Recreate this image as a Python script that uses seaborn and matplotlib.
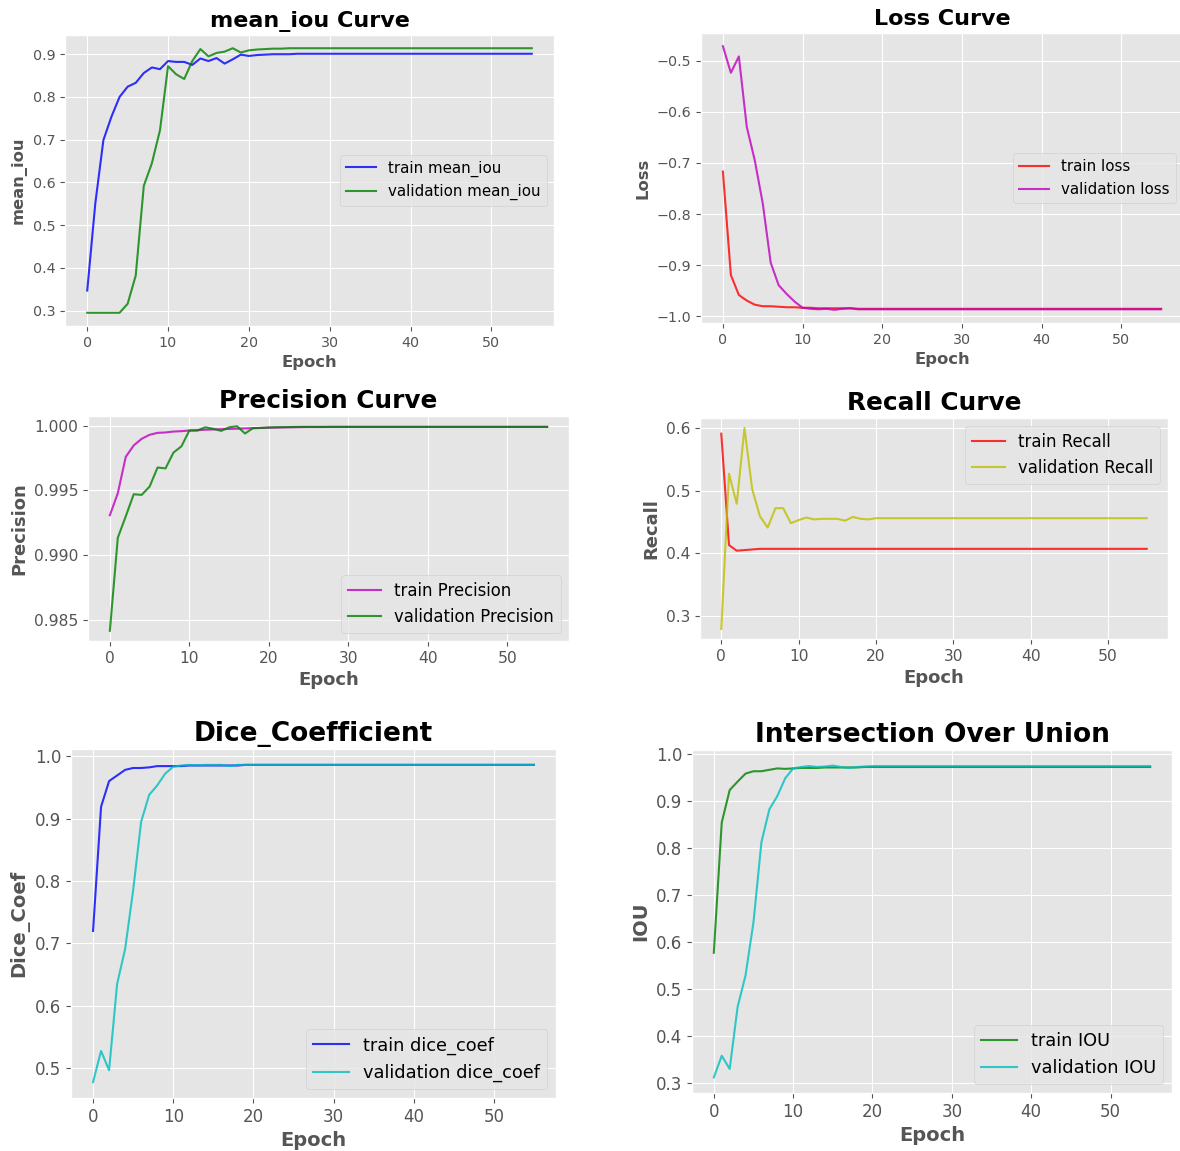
import numpy as np
import pandas as pd
import matplotlib
matplotlib.use("Agg")
import matplotlib.pyplot as plt
from matplotlib.ticker import MultipleLocator, FormatStrFormatter
import seaborn as sns

# epoch index (0..55)
epochs = list(range(56))

train_miou = [0.347, 0.551, 0.699, 0.754, 0.800, 0.824, 0.833, 0.856, 0.869, 0.865,
              0.884, 0.882, 0.882, 0.875, 0.890, 0.884, 0.891, 0.878, 0.888, 0.899,
              0.896, 0.898, 0.899, 0.900, 0.900, 0.900, 0.901, 0.901, 0.901, 0.901,
              0.901, 0.901, 0.901, 0.901, 0.901, 0.901, 0.901, 0.901, 0.901, 0.901,
              0.901, 0.901, 0.901, 0.901, 0.901, 0.901, 0.901, 0.901, 0.901, 0.901,
              0.901, 0.901, 0.901, 0.901, 0.901, 0.901]
val_miou = [0.295, 0.295, 0.295, 0.295, 0.295, 0.316, 0.382, 0.592, 0.645, 0.722,
            0.872, 0.853, 0.842, 0.884, 0.912, 0.895, 0.903, 0.906, 0.914, 0.904,
            0.909, 0.911, 0.912, 0.913, 0.913, 0.914, 0.914, 0.914, 0.914, 0.914,
            0.914, 0.914, 0.914, 0.914, 0.914, 0.914, 0.914, 0.914, 0.914, 0.914,
            0.914, 0.914, 0.914, 0.914, 0.914, 0.914, 0.914, 0.914, 0.914, 0.914,
            0.914, 0.914, 0.914, 0.914, 0.914, 0.914]

train_loss = [-0.717, -0.919, -0.958, -0.969, -0.977, -0.980, -0.980, -0.981, -0.982, -0.982,
              -0.983, -0.983, -0.984, -0.984, -0.984, -0.984, -0.984, -0.985, -0.985, -0.985,
              -0.985, -0.985, -0.985, -0.985, -0.985, -0.985, -0.985, -0.985, -0.985, -0.985,
              -0.985, -0.985, -0.985, -0.985, -0.985, -0.985, -0.985, -0.985, -0.985, -0.985,
              -0.985, -0.985, -0.985, -0.985, -0.985, -0.985, -0.985, -0.985, -0.985, -0.985,
              -0.985, -0.985, -0.985, -0.985, -0.985, -0.985]
val_loss = [-0.472, -0.524, -0.492, -0.630, -0.695, -0.779, -0.895, -0.939, -0.956, -0.971,
            -0.983, -0.985, -0.986, -0.985, -0.987, -0.985, -0.984, -0.986, -0.986, -0.986,
            -0.986, -0.986, -0.986, -0.986, -0.986, -0.986, -0.986, -0.986, -0.986, -0.986,
            -0.986, -0.986, -0.986, -0.986, -0.986, -0.986, -0.986, -0.986, -0.986, -0.986,
            -0.986, -0.986, -0.986, -0.986, -0.986, -0.986, -0.986, -0.986, -0.986, -0.986,
            -0.986, -0.986, -0.986, -0.986, -0.986, -0.986]

train_prec = [0.99309, 0.99479, 0.99759, 0.99847, 0.99898, 0.99929, 0.99944, 0.99947, 0.99954, 0.99957,
              0.99962, 0.99964, 0.99968, 0.99970, 0.99972, 0.99974, 0.99976, 0.99978, 0.99980, 0.99982,
              0.99984, 0.99985, 0.99986, 0.99987, 0.99988, 0.99989, 0.99989, 0.99989, 0.99990, 0.99990,
              0.99990, 0.99990, 0.99990, 0.99990, 0.99990, 0.99990, 0.99990, 0.99990, 0.99990, 0.99990,
              0.99990, 0.99990, 0.99990, 0.99990, 0.99990, 0.99990, 0.99990, 0.99990, 0.99990, 0.99990,
              0.99990, 0.99990, 0.99990, 0.99990, 0.99990, 0.99990]
val_prec = [0.98419, 0.99136, 0.99301, 0.99471, 0.99466, 0.99530, 0.99677, 0.99670, 0.99792, 0.99840,
            0.99962, 0.99962, 0.99987, 0.99975, 0.99959, 0.99987, 0.99995, 0.99939, 0.99980, 0.99982,
            0.99985, 0.99987, 0.99988, 0.99989, 0.99990, 0.99990, 0.99990, 0.99990, 0.99990, 0.99990,
            0.99990, 0.99990, 0.99990, 0.99990, 0.99990, 0.99990, 0.99990, 0.99990, 0.99990, 0.99990,
            0.99990, 0.99990, 0.99990, 0.99990, 0.99990, 0.99990, 0.99990, 0.99990, 0.99990, 0.99990,
            0.99990, 0.99990, 0.99990, 0.99990, 0.99990, 0.99990]

train_recall = [0.591, 0.413, 0.404, 0.405, 0.406, 0.407, 0.407, 0.407, 0.407, 0.407,
                0.407, 0.407, 0.407, 0.407, 0.407, 0.407, 0.407, 0.407, 0.407, 0.407,
                0.407, 0.407, 0.407, 0.407, 0.407, 0.407, 0.407, 0.407, 0.407, 0.407,
                0.407, 0.407, 0.407, 0.407, 0.407, 0.407, 0.407, 0.407, 0.407, 0.407,
                0.407, 0.407, 0.407, 0.407, 0.407, 0.407, 0.407, 0.407, 0.407, 0.407,
                0.407, 0.407, 0.407, 0.407, 0.407, 0.407]
val_recall = [0.279, 0.527, 0.479, 0.600, 0.502, 0.459, 0.441, 0.472, 0.472, 0.448,
              0.453, 0.457, 0.454, 0.455, 0.455, 0.455, 0.452, 0.458, 0.455, 0.454,
              0.456, 0.456, 0.456, 0.456, 0.456, 0.456, 0.456, 0.456, 0.456, 0.456,
              0.456, 0.456, 0.456, 0.456, 0.456, 0.456, 0.456, 0.456, 0.456, 0.456,
              0.456, 0.456, 0.456, 0.456, 0.456, 0.456, 0.456, 0.456, 0.456, 0.456,
              0.456, 0.456, 0.456, 0.456, 0.456, 0.456]

train_dice = [0.720, 0.919, 0.960, 0.969, 0.978, 0.981, 0.981, 0.982, 0.984, 0.984,
              0.984, 0.984, 0.985, 0.985, 0.985, 0.985, 0.985, 0.985, 0.985, 0.986,
              0.986, 0.986, 0.986, 0.986, 0.986, 0.986, 0.986, 0.986, 0.986, 0.986,
              0.986, 0.986, 0.986, 0.986, 0.986, 0.986, 0.986, 0.986, 0.986, 0.986,
              0.986, 0.986, 0.986, 0.986, 0.986, 0.986, 0.986, 0.986, 0.986, 0.986,
              0.986, 0.986, 0.986, 0.986, 0.986, 0.986]
val_dice = [0.478, 0.528, 0.497, 0.635, 0.691, 0.785, 0.895, 0.938, 0.953, 0.972,
            0.983, 0.985, 0.986, 0.985, 0.986, 0.986, 0.986, 0.984, 0.986, 0.986,
            0.986, 0.986, 0.986, 0.986, 0.986, 0.986, 0.986, 0.986, 0.986, 0.986,
            0.986, 0.986, 0.986, 0.986, 0.986, 0.986, 0.986, 0.986, 0.986, 0.986,
            0.986, 0.986, 0.986, 0.986, 0.986, 0.986, 0.986, 0.986, 0.986, 0.986,
            0.986, 0.986, 0.986, 0.986, 0.986, 0.986]

train_iou = [0.577, 0.854, 0.923, 0.941, 0.958, 0.963, 0.963, 0.966, 0.969, 0.968,
             0.969, 0.970, 0.970, 0.970, 0.971, 0.971, 0.971, 0.971, 0.971, 0.972,
             0.972, 0.972, 0.972, 0.972, 0.972, 0.972, 0.972, 0.972, 0.972, 0.972,
             0.972, 0.972, 0.972, 0.972, 0.972, 0.972, 0.972, 0.972, 0.972, 0.972,
             0.972, 0.972, 0.972, 0.972, 0.972, 0.972, 0.972, 0.972, 0.972, 0.972,
             0.972, 0.972, 0.972, 0.972, 0.972, 0.972]
val_iou = [0.312, 0.358, 0.330, 0.462, 0.529, 0.642, 0.812, 0.882, 0.910, 0.948,
           0.969, 0.972, 0.974, 0.972, 0.973, 0.975, 0.972, 0.970, 0.972, 0.973,
           0.974, 0.974, 0.974, 0.974, 0.974, 0.974, 0.974, 0.974, 0.974, 0.974,
           0.974, 0.974, 0.974, 0.974, 0.974, 0.974, 0.974, 0.974, 0.974, 0.974,
           0.974, 0.974, 0.974, 0.974, 0.974, 0.974, 0.974, 0.974, 0.974, 0.974,
           0.974, 0.974, 0.974, 0.974, 0.974, 0.974]

plt.style.use("ggplot")

W, H = 1180, 1151
fig = plt.figure(figsize=(W / 100, H / 100), dpi=100)


def box(left, top, right, bottom):
    # pixel box -> figure fraction
    return [left / W, 1 - bottom / H, (right - left) / W, (bottom - top) / H]


def panel(rect, train, val, c1, c2, name, ylab, title, loc, sizes):
    tick_fs, lab_fs, title_fs, leg_fs = sizes
    ax = fig.add_axes(rect)
    df = pd.DataFrame({"Epoch": epochs, "train": train, "val": val})
    sns.lineplot(data=df, x="Epoch", y="train", ax=ax, color=c1, alpha=0.8,
                 linewidth=1.5, label="train " + name)
    sns.lineplot(data=df, x="Epoch", y="val", ax=ax, color=c2, alpha=0.8,
                 linewidth=1.5, label="validation " + name)
    ax.set_title(title, fontsize=title_fs, fontweight="bold", color="black")
    ax.set_xlabel("Epoch", fontsize=lab_fs, fontweight="bold", color="#555555")
    ax.set_ylabel(ylab, fontsize=lab_fs, fontweight="bold", color="#555555")
    ax.tick_params(labelsize=tick_fs)
    ax.set_xticks([0, 10, 20, 30, 40, 50])
    ax.legend(loc=loc, fontsize=leg_fs)
    return ax


top = (10.3, 11.8, 16, 10.8)
mid = (11.2, 13, 17.8, 11.9)
bot = (12, 14, 19, 12.8)

panel(box(65, 35, 554, 326), train_miou, val_miou, "blue", "green",
      "mean_iou", "mean_iou", "mean_iou Curve", "center right", top)
panel(box(701, 33, 1183, 323), train_loss, val_loss, "red", "m",
      "loss", "Loss", "Loss Curve", "center right", top)
ax_p = panel(box(88, 416, 569, 641), train_prec, val_prec, "m", "green",
             "Precision", "Precision", "Precision Curve", "lower right", mid)
ax_p.yaxis.set_major_locator(MultipleLocator(0.005))
ax_p.yaxis.set_major_formatter(FormatStrFormatter("%.3f"))
panel(box(700, 418, 1168, 639), train_recall, val_recall, "red", "y",
      "Recall", "Recall", "Recall Curve", "upper right", mid)
panel(box(71, 749, 556, 1098), train_dice, val_dice, "blue", "c",
      "dice_coef", "Dice_Coef", "Dice_Coefficient", "lower right", bot)
panel(box(692, 750, 1172, 1093), train_iou, val_iou, "green", "c",
      "IOU", "IOU", "Intersection Over Union", "lower right", bot)

fig.savefig("out.png", dpi=100)
